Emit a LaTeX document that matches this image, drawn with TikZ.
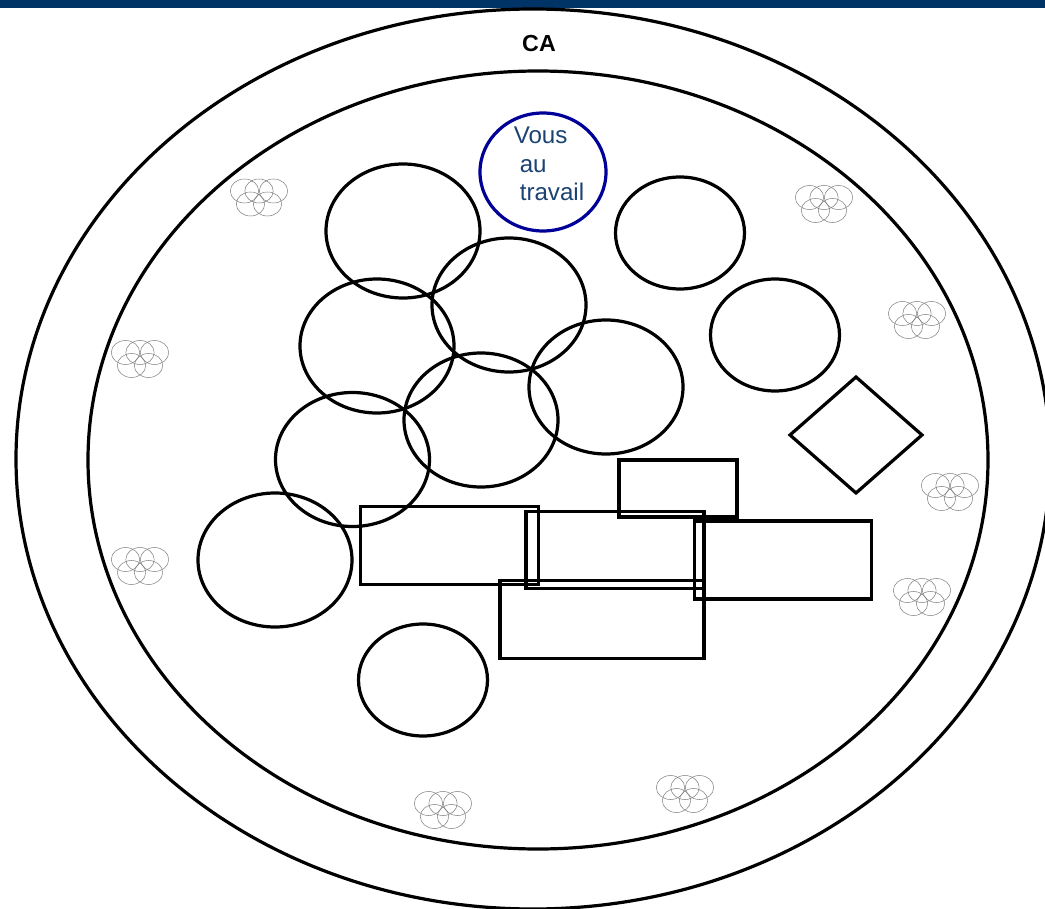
\documentclass[tikz,border=0pt]{standalone}
\usepackage{fontspec}
\setmainfont{Liberation Sans}
\usetikzlibrary{shapes.geometric}
\definecolor{barblue}{HTML}{003366}
\definecolor{ringblue}{HTML}{000099}
\definecolor{textblue}{HTML}{1A4273}
\tikzset{
  x=0.0265cm,y=-0.0265cm,
  circ/.style={ellipse,draw=black,line width=0.085cm,inner sep=0pt,outer sep=0pt},
  big/.style={circ,minimum width=154*0.0265cm,minimum height=134*0.0265cm},
  small/.style={circ,minimum width=129*0.0265cm,minimum height=112*0.0265cm},
  boxy/.style={rectangle,draw=black,line width=0.085cm,inner sep=0pt,outer sep=0pt},
  cluster/.pic={
    \foreach \cx/\cy in {-14.5/-6.5,0/-6.5,14.5/-6.5,-8.5/6.5,8.5/6.5}
      \draw[black!50,line width=0.014cm] (\cx,\cy) ellipse [x radius=14.2,y radius=12];
  }
}
\begin{document}
\begin{tikzpicture}
\useasboundingbox (0,0) rectangle (1045,909);
\fill[barblue] (0,0) rectangle (1045,8);
\node[circ,minimum width=1034*0.0265cm,minimum height=900*0.0265cm] (outer) at (533,459) {};
\node[circ,minimum width=900*0.0265cm,minimum height=778*0.0265cm] (inner) at (538,460) {};
\node[font=\bfseries\fontsize{17.5pt}{20pt}\selectfont] (ca) at (539,44) {CA};
\node[circ,draw=ringblue,minimum width=126*0.0265cm,minimum height=118*0.0265cm] (you) at (543,172) {};
\node[anchor=north west,inner sep=0pt,align=left,text=textblue,font=\fontsize{18.2pt}{21.6pt}\selectfont] (yout) at (513.5,126.5) {Vous\\[0pt]\hspace*{0.16cm}au\\[0pt]\hspace*{0.16cm}travail};
\node[big] (e1) at (403,231) {};
\node[big] (e2) at (509,305) {};
\node[big] (e3) at (377,346) {};
\node[big] (e4) at (606,387) {};
\node[big] (e5) at (481,420) {};
\node[big] (e6) at (352.5,459.5) {};
\node[big] (e7) at (275,560) {};
\node[small] (e8) at (423,680) {};
\node[small] (e9) at (680,233) {};
\node[small] (e10) at (775,335) {};
\node[diamond,draw=black,line width=0.085cm,inner sep=0pt,outer sep=0pt,minimum width=132*0.0265cm,minimum height=116*0.0265cm] (dia) at (856,435) {};
\node[boxy,minimum width=178*0.0265cm,minimum height=78.5*0.0265cm] (r1) at (449.5,545.5) {};
\node[boxy,minimum width=178*0.0265cm,minimum height=77.5*0.0265cm] (r2) at (615,550) {};
\node[boxy,minimum width=118*0.0265cm,minimum height=57*0.0265cm] (r3) at (678,488.5) {};
\node[boxy,minimum width=176.5*0.0265cm,minimum height=78*0.0265cm] (r4) at (783,560) {};
\node[boxy,minimum width=204*0.0265cm,minimum height=78*0.0265cm] (r5) at (602,619.5) {};
\foreach \px/\py in {259/197.5,824/204,917/320,950/492,922/597,140/359,140/566,443/810,685/794}
  \pic at (\px,\py) {cluster};
\end{tikzpicture}
\end{document}
